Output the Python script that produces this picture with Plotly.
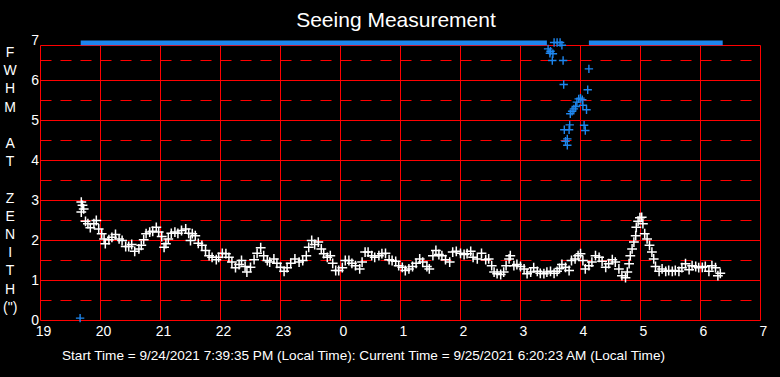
import plotly.graph_objects as go

# ---------------- data ----------------
# time in hours since midnight of 9/24 (24 = midnight, 25 = 1 AM ...)
white_h = [19.68, 19.70, 19.68, 19.72, 19.75, 19.79, 19.83, 19.89, 19.93, 19.97,
           20.02, 20.06, 20.08, 20.14, 20.19, 20.25, 20.31, 20.36, 20.42, 20.47,
           20.52, 20.57, 20.64, 20.68, 20.72, 20.76, 20.82, 20.87, 20.93, 20.97,
           21.02, 21.06, 21.09, 21.13, 21.18, 21.24, 21.29, 21.35, 21.42, 21.47,
           21.50, 21.53, 21.58, 21.63, 21.69, 21.75, 21.81, 21.86, 21.93, 21.97,
           22.03, 22.09, 22.14, 22.19, 22.25, 22.31, 22.35, 22.41, 22.44, 22.50,
           22.56, 22.61, 22.67, 22.72, 22.78, 22.82, 22.89, 22.94, 23.00, 23.06,
           23.11, 23.17, 23.24, 23.31, 23.37, 23.43, 23.47, 23.52, 23.57, 23.63,
           23.68, 23.72, 23.78, 23.83, 23.87, 23.92, 23.97, 24.03, 24.08, 24.14,
           24.19, 24.25, 24.32, 24.36, 24.41, 24.46, 24.52, 24.57, 24.64, 24.69,
           24.75, 24.81, 24.86, 24.92, 24.97, 25.03, 25.08, 25.14, 25.20, 25.26,
           25.32, 25.37, 25.44, 25.48, 25.54, 25.59, 25.64, 25.69, 25.75, 25.82,
           25.87, 25.93, 26.00, 26.06, 26.11, 26.17, 26.21, 26.28, 26.35, 26.42,
           26.47, 26.52, 26.56, 26.61, 26.67, 26.72, 26.76, 26.81, 26.83, 26.89,
           26.94, 27.00, 27.06, 27.11, 27.17, 27.22, 27.28, 27.33, 27.39, 27.44,
           27.50, 27.56, 27.61, 27.65, 27.69, 27.75, 27.81, 27.85, 27.91, 27.96,
           28.00, 28.04, 28.08, 28.14, 28.19, 28.25, 28.31, 28.36, 28.42, 28.47,
           28.53, 28.58, 28.64, 28.69, 28.75, 28.78, 28.81, 28.83, 28.86, 28.89,
           28.92, 28.93, 28.96, 28.99, 29.02, 29.04, 29.07, 29.11, 29.15, 29.19,
           29.22, 29.25, 29.31, 29.36, 29.42, 29.47, 29.53, 29.58, 29.64, 29.69,
           29.75, 29.81, 29.86, 29.92, 29.97, 30.03, 30.08, 30.14, 30.19, 30.25,
           30.29, 30.33]
white_v = [2.96, 2.88, 2.71, 2.79, 2.48, 2.42, 2.32, 2.42, 2.50, 2.29,
           2.17, 2.04, 1.92, 2.02, 2.08, 2.15, 2.04, 2.00, 1.85, 1.85,
           1.90, 1.73, 1.79, 1.88, 2.02, 2.17, 2.21, 2.23, 2.33, 2.21,
           2.10, 1.83, 1.92, 2.04, 2.18, 2.21, 2.18, 2.25, 2.29, 2.18,
           2.00, 2.17, 2.12, 1.93, 1.88, 1.75, 1.62, 1.58, 1.52, 1.58,
           1.68, 1.67, 1.58, 1.46, 1.32, 1.40, 1.50, 1.35, 1.21, 1.33,
           1.52, 1.68, 1.82, 1.62, 1.50, 1.46, 1.54, 1.43, 1.33, 1.23,
           1.32, 1.43, 1.54, 1.46, 1.50, 1.62, 1.83, 2.00, 1.90, 1.96,
           1.79, 1.67, 1.58, 1.62, 1.43, 1.25, 1.25, 1.32, 1.50, 1.50,
           1.43, 1.37, 1.29, 1.46, 1.71, 1.71, 1.62, 1.58, 1.62, 1.67,
           1.68, 1.52, 1.50, 1.48, 1.37, 1.33, 1.25, 1.29, 1.35, 1.43,
           1.54, 1.46, 1.35, 1.29, 1.62, 1.75, 1.65, 1.62, 1.52, 1.46,
           1.71, 1.73, 1.68, 1.65, 1.67, 1.73, 1.58, 1.54, 1.68, 1.52,
           1.54, 1.37, 1.21, 1.17, 1.15, 1.21, 1.37, 1.54, 1.62, 1.37,
           1.40, 1.35, 1.29, 1.17, 1.21, 1.32, 1.23, 1.18, 1.17, 1.21,
           1.23, 1.18, 1.23, 1.30, 1.40, 1.33, 1.25, 1.50, 1.54, 1.62,
           1.67, 1.50, 1.29, 1.37, 1.46, 1.62, 1.58, 1.48, 1.33, 1.42,
           1.52, 1.46, 1.29, 1.12, 1.07, 1.21, 1.42, 1.62, 1.79, 1.96,
           2.12, 2.33, 2.48, 2.57, 2.58, 2.42, 2.17, 2.04, 1.88, 1.71,
           1.54, 1.35, 1.23, 1.29, 1.23, 1.25, 1.23, 1.25, 1.23, 1.32,
           1.42, 1.27, 1.37, 1.35, 1.32, 1.33, 1.35, 1.23, 1.37, 1.32,
           1.12, 1.18]

blue_h = [19.66, 27.46, 27.50, 27.49, 27.54, 27.53, 27.71, 28.14, 27.72, 28.12,
          27.97, 28.00, 28.03, 27.94, 28.04, 28.10, 27.89, 27.86, 27.83, 27.92,
          27.82, 27.73, 27.81, 28.06, 28.08, 27.78, 27.75, 27.78, 27.56, 27.61,
          27.66, 27.69]
blue_v = [0.06, 6.79, 6.73, 6.68, 6.67, 6.50, 6.50, 6.29, 5.90, 5.77,
          5.54, 5.56, 5.52, 5.46, 5.38, 5.27, 5.29, 5.23, 5.17, 5.35,
          4.89, 4.77, 4.77, 4.88, 4.75, 4.54, 4.48, 4.38, 6.95, 6.95,
          6.95, 6.88]

# periods where the blue measurement is off the top of the scale
clip_start = [19.67, 28.14]
clip_end = [27.44, 30.37]
clip_level = 6.94

x_tickvals = [19, 20, 21, 22, 23, 24, 25, 26, 27, 28, 29, 30, 31]
x_ticktext = ["19", "20", "21", "22", "23", "0", "1", "2", "3", "4", "5", "6", "7"]
y_tickvals = [0, 1, 2, 3, 4, 5, 6, 7]
y_half = [0.5, 1.5, 2.5, 3.5, 4.5, 5.5, 6.5]
frame_top = 6.875

title_text = "Seeing Measurement"
ylabel_letters = ["F", "W", "H", "M", "", "A", "T", "", "Z", "E", "N", "I", "T", "H", "(\")"]
footer_text = ("Start Time = 9/24/2021 7:39:35 PM (Local Time): "
               "Current Time = 9/25/2021 6:20:23 AM (Local Time)")

# ---------------- figure ----------------
RED = "#ff0000"
BLUE = "#1e86ee"
FONT = "Liberation Sans, Arial, sans-serif"

# plot area geometry (pixels) – 60 px per hour, 40 px per unit of FWHM,
# with grid lines landing on pixel centres
L, T, PW, PH = 40, 38, 721, 283
x0 = 19 - 0.5 / 60
y1 = 7.0625

fig = go.Figure()

shapes = []
for xv in x_tickvals:
    shapes.append(dict(type="line", xref="x", yref="y", x0=xv, x1=xv, y0=0, y1=frame_top,
                       line=dict(color=RED, width=1), layer="below"))
for yv in y_tickvals[:-1] + [frame_top]:
    shapes.append(dict(type="line", xref="x", yref="y", x0=x_tickvals[0], x1=x_tickvals[-1],
                       y0=yv, y1=yv, line=dict(color=RED, width=1), layer="below"))
for yv in y_half:
    shapes.append(dict(type="line", xref="x", yref="y", x0=x_tickvals[0], x1=x_tickvals[-1],
                       y0=yv, y1=yv, line=dict(color=RED, width=1, dash="11px,9px"),
                       layer="below"))

# off-scale band
band_x, band_y = [], []
for s, e in zip(clip_start, clip_end):
    band_x += [s, e, None]
    band_y += [clip_level, clip_level, None]
fig.add_trace(go.Scatter(x=band_x, y=band_y, mode="lines",
                         line=dict(color=BLUE, width=4.6), hoverinfo="skip"))

fig.add_trace(go.Scatter(x=blue_h, y=blue_v, mode="markers",
                         marker=dict(symbol="cross-thin", size=6,
                                     line=dict(color=BLUE, width=1.4)),
                         cliponaxis=False))
fig.add_trace(go.Scatter(x=white_h, y=white_v, mode="markers",
                         marker=dict(symbol="cross-thin", size=7,
                                     line=dict(color="white", width=1.5)),
                         cliponaxis=False))

fig.update_layout(
    width=780, height=377,
    paper_bgcolor="black", plot_bgcolor="black",
    margin=dict(l=L, r=780 - L - PW, t=T, b=377 - T - PH),
    showlegend=False,
    shapes=shapes,
    font=dict(family=FONT, color="white", size=14),
    title=dict(text=title_text, x=396 / 780, xref="container", xanchor="center",
               y=1 - 20 / 377, yref="container", yanchor="middle",
               font=dict(size=21, color="white", family=FONT)),
    xaxis=dict(range=[x0, x0 + PW / 60], tickvals=x_tickvals, ticktext=x_ticktext,
               showgrid=False, zeroline=False, showline=False, ticks="",
               ticklabelshift=3, tickfont=dict(size=14, color="white")),
    yaxis=dict(range=[y1 - PH / 40, y1], tickvals=y_tickvals, showgrid=False,
               zeroline=False, showline=False, ticks="",
               tickfont=dict(size=14, color="white")),
    annotations=[
        dict(text="<br>".join(ylabel_letters), xref="paper", yref="paper",
             x=(11 - L) / PW, y=(T + PH - 179.5) / PH, xanchor="center", yanchor="middle",
             showarrow=False, align="center", font=dict(size=14, color="white", family=FONT)),
        dict(text=footer_text, xref="paper", yref="paper",
             x=(363.5 - L) / PW, y=(T + PH - 355) / PH, xanchor="center", yanchor="middle",
             showarrow=False, font=dict(size=13.6, color="white", family=FONT)),
    ],
)

fig.write_html("out.html", config={"displayModeBar": False},
               post_script="document.body.style.margin='0px';document.body.style.background='black';")
